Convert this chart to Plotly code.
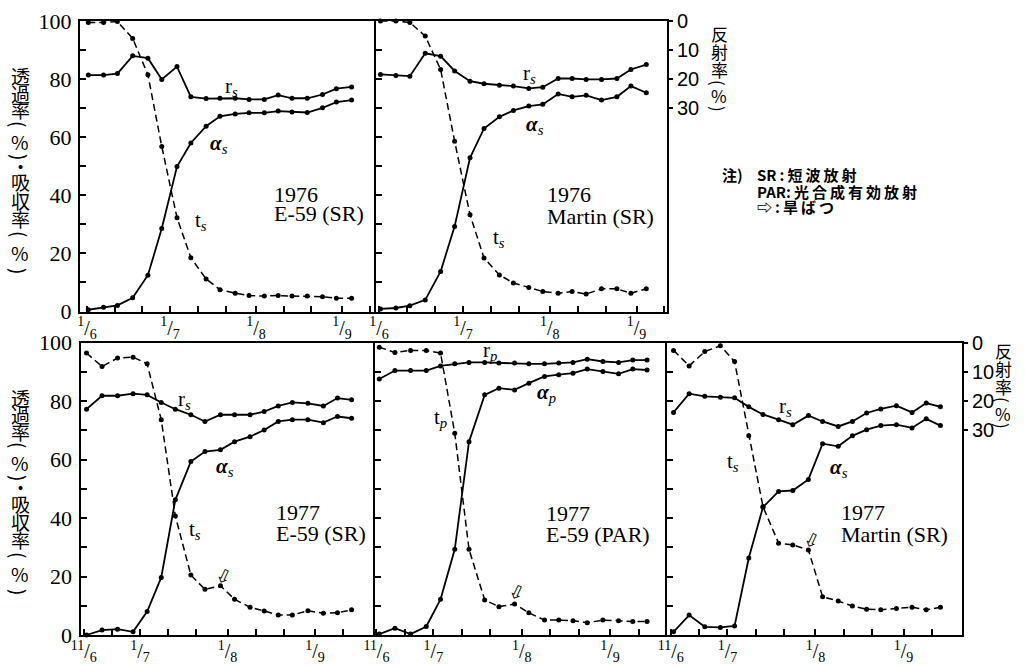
import plotly.graph_objects as go

# ---------------- data ----------------
# x = days after 1 June
days_1976 = [0.5, 6, 11, 16.5, 22, 27, 32.5, 37.5, 43, 48, 53.5, 58.5, 64, 69, 74, 79.5, 85, 90, 95.5]
days_1977 = [11, 16.5, 22, 27.5, 32.5, 37.5, 42.5, 48, 53, 58.5, 63.5, 69, 74, 79, 84, 89.5, 95, 100, 105]

# 1976 E-59 (SR)
t_e59_1976 = [99.5, 99.5, 99.8, 94, 81.5, 56.8, 32.3, 18.5, 11.2, 7.5, 6.3, 5.5, 5.3, 5.5, 5.3, 5.3, 5.1, 4.6, 4.6]
a_e59_1976 = [0.6, 1.5, 2.1, 4.7, 12.5, 28.6, 49.9, 58, 63.8, 67.2, 68, 68.4, 68.4, 69, 68.7, 68.5, 70.1, 72.1, 72.8]
r_e59_1976 = [18.6, 18.6, 18.1, 12, 12.8, 20.1, 15.7, 26.1, 26.7, 26.6, 26.6, 27, 27, 25.5, 26.6, 26.6, 25.3, 23.3, 22.7]

# 1976 Martin (SR)
t_mar_1976 = [100, 100, 99.5, 94.8, 83.3, 58.6, 33.3, 18.4, 12.6, 9.8, 8.3, 6.9, 6.3, 6.9, 6, 7.8, 7.8, 6.3, 7.8]
a_mar_1976 = [0.9, 1.2, 2, 4, 13.8, 29.3, 52.9, 63, 67, 69.2, 70.7, 71.3, 74.9, 73.9, 74.4, 72.8, 73.9, 77.6, 75.3]
r_mar_1976 = [18.4, 18.8, 19, 11.1, 12.1, 17.2, 20.7, 21.6, 22.1, 22.4, 23.2, 22.8, 19.8, 19.8, 20.1, 20.1, 19.8, 16.7, 15]

# 1977 E-59 (SR)
t_e59_1977 = [96.4, 91.8, 94.7, 95, 92.7, 73.6, 40.7, 20.5, 15.6, 16.8, 12.2, 9.5, 8.2, 6.8, 6.8, 8.3, 7.4, 7.6, 8.6]
a_e59_1977 = [0, 1.7, 2, 1.1, 8, 19.7, 46.2, 59.3, 62.7, 63.3, 66.1, 67.8, 70.1, 73, 73.6, 73.6, 72.6, 74.7, 74.1]
r_e59_1977 = [22.8, 18.2, 18.2, 17.5, 17.9, 20.5, 22.8, 24.7, 27, 24.7, 24.7, 24.7, 23.6, 21.7, 20.5, 20.8, 21.7, 19, 19.6]

# 1977 E-59 (PAR)
t_par_1977 = [98.4, 96.6, 97.3, 97.3, 96.4, 69, 29.3, 12, 9.7, 10.6, 7.6, 5.1, 5.1, 4.9, 4.2, 5.1, 4.9, 4.6, 4.6]
a_par_1977 = [0.3, 2.3, 0.3, 2.9, 12.2, 29.3, 66.1, 82.1, 84.4, 83.8, 86.1, 88.4, 89, 89.5, 90.9, 90.1, 89.3, 90.9, 90.6]
r_par_1977 = [12.5, 9.6, 9.6, 9.6, 8, 7.3, 6.8, 6.8, 7, 7, 7.3, 7.3, 7, 6.8, 5.7, 6.5, 6.8, 6, 6]

# 1977 Martin (SR)
t_mar_1977 = [97.3, 92, 96.9, 98.9, 93.5, 68.1, 43.9, 31.4, 30.8, 29.1, 13.1, 11.6, 9.9, 8.8, 8.6, 9.1, 9.5, 8.6, 9.5]
a_mar_1977 = [1.1, 6.8, 2.8, 2.6, 3.1, 26.3, 43.7, 49.1, 49.4, 53.2, 65.4, 64.5, 68.1, 70.2, 71.6, 71.9, 70.8, 73.9, 71.6]
r_mar_1977 = [23.9, 17.5, 18.4, 18.7, 18.9, 22, 24.6, 26.4, 28.1, 25, 27, 28.7, 27, 24.1, 22.7, 21.6, 23.9, 20.7, 22]

# ticks
tick_days_1976 = [0, 10, 20, 30, 40, 50, 61, 71, 81, 92, 102]
tick_text_1976 = ["1/6", "", "", "1/7", "", "", "1/8", "", "", "1/9", ""]
tick_days_1977 = [10, 20, 30, 40, 50, 61, 71, 81, 92, 102]
tick_text_1977 = ["11/6", "", "1/7", "", "", "1/8", "", "", "1/9", ""]
left_ticks = [0, 10, 20, 30, 40, 50, 60, 70, 80, 90, 100]
left_text = ["0", "", "20", "", "40", "", "60", "", "80", "", "100"]
refl_ticks = [0, 10, 20, 30]
refl_text = ["0", "10", "20", "30"]

# ---------------- layout geometry (pixels) ----------------
W, H = 1025, 666
def fx(px):
    return px / W
def fy(py):
    return 1 - py / H

def frac(s):
    if not s:
        return ""
    a, b = s.split("/")
    return "<sup>%s</sup>/<sub>%s</sub>" % (a, b)

panels = [
    dict(px=(80, 376), py=(21, 311.5), xr=[-2.5, 104.3], days=days_1976,
         t=t_e59_1976, a=a_e59_1976, r=r_e59_1976, tv=tick_days_1976, tt=tick_text_1976,
         first=True, last=False, sub="s",
         year="1976", name="E-59 (SR)", tpos=(272, 194, 214),
         lab_r=(231, 87), lab_a=(219, 144), lab_t=(201, 221), arrow=None),
    dict(px=(376, 667), py=(21, 311.5), xr=[-1.1, 102.9], days=days_1976,
         t=t_mar_1976, a=a_mar_1976, r=r_mar_1976, tv=tick_days_1976, tt=tick_text_1976,
         first=False, last=True, sub="s",
         year="1976", name="Martin (SR)", tpos=(545, 194, 216),
         lab_r=(529, 74), lab_a=(535, 125), lab_t=(499, 238), arrow=None),
    dict(px=(80.5, 375), py=(342.5, 635), xr=[8.87, 113.3], days=days_1977,
         t=t_e59_1977, a=a_e59_1977, r=r_e59_1977, tv=tick_days_1977, tt=tick_text_1977,
         first=True, last=False, sub="s",
         year="1977", name="E-59 (SR)", tpos=(274, 512, 533),
         lab_r=(184, 400), lab_a=(225, 467), lab_t=(195, 530), arrow=(224, 576)),
    dict(px=(375, 667), py=(342.5, 635), xr=[9.5, 112.0], days=days_1977,
         t=t_par_1977, a=a_par_1977, r=r_par_1977, tv=tick_days_1977, tt=tick_text_1977,
         first=False, last=False, sub="p",
         year="1977", name="E-59 (PAR)", tpos=(544, 513, 534),
         lab_r=(490, 351), lab_a=(546, 393), lab_t=(440, 418), arrow=(517, 592)),
    dict(px=(667, 962), py=(342.5, 635), xr=[8.7, 112.6], days=days_1977,
         t=t_mar_1977, a=a_mar_1977, r=r_mar_1977, tv=tick_days_1977, tt=tick_text_1977,
         first=False, last=True, sub="s",
         year="1977", name="Martin (SR)", tpos=(839, 512, 534),
         lab_r=(785, 407), lab_a=(839, 468), lab_t=(733, 462), arrow=(812, 540)),
]

def ref(letter, n):
    return letter if n == 1 else "%s%d" % (letter, n)
def key(letter, n):
    return "%saxis" % letter if n == 1 else "%saxis%d" % (letter, n)

fig = go.Figure()
layout = {}
annotations = []
SERIF = "Liberation Serif"
CJK = "Noto Sans CJK JP"

for i, p in enumerate(panels, start=1):
    j = i + 5
    xr_, yr_, y2r = ref("x", i), ref("y", i), ref("y", j)
    fig.add_trace(go.Scatter(x=p["days"], y=p["t"], mode="lines+markers",
                             line=dict(color="black", width=1.5, dash="7px,4px"),
                             marker=dict(size=5, color="black"),
                             xaxis=xr_, yaxis=yr_, cliponaxis=False, hoverinfo="skip"))
    fig.add_trace(go.Scatter(x=p["days"], y=p["a"], mode="lines+markers",
                             line=dict(color="black", width=1.8),
                             marker=dict(size=5, color="black"),
                             xaxis=xr_, yaxis=yr_, cliponaxis=False, hoverinfo="skip"))
    fig.add_trace(go.Scatter(x=p["days"], y=p["r"], mode="lines+markers",
                             line=dict(color="black", width=1.8),
                             marker=dict(size=5, color="black"),
                             xaxis=xr_, yaxis=y2r, cliponaxis=False, hoverinfo="skip"))

    layout[key("x", i)] = dict(
        domain=[fx(p["px"][0]), fx(p["px"][1])], range=p["xr"], anchor=yr_,
        showline=True, linewidth=2, linecolor="black", mirror=True,
        ticks="inside", ticklen=6, tickwidth=1.5, tickcolor="black",
        tickmode="array", tickvals=p["tv"], ticktext=[frac(s) for s in p["tt"]],
        ticklabelstandoff=-3,
        tickfont=dict(family=SERIF, size=20, color="black"), automargin=False,
        showgrid=False, zeroline=False, fixedrange=True)
    layout[key("y", i)] = dict(
        domain=[fy(p["py"][1]), fy(p["py"][0])], range=[0, 100], anchor=xr_,
        showline=True, linewidth=2, linecolor="black", mirror=p["last"],
        ticks="inside", ticklen=6, tickwidth=1.5, tickcolor="black",
        tickmode="array", tickvals=left_ticks, ticktext=left_text,
        showticklabels=p["first"], ticklabelstandoff=2, automargin=False,
        tickfont=dict(family=SERIF, size=22, color="black"),
        showgrid=False, zeroline=False, fixedrange=True)
    sec = dict(overlaying=yr_, anchor=xr_, side="right", range=[100, 0], automargin=False,
               showline=False, showgrid=False, zeroline=False, fixedrange=True)
    if p["last"]:
        sec.update(ticks="outside", ticklen=5, tickwidth=1.5, tickcolor="black",
                   tickmode="array", tickvals=refl_ticks, ticktext=refl_text,
                   ticklabelstandoff=0,
                   tickfont=dict(family="Liberation Sans", size=20, color="black"))
    else:
        sec.update(showticklabels=False, ticks="")
    layout[key("y", j)] = sec

    # panel titles
    x0, y1, y2 = p["tpos"]
    for txt, yy in ((p["year"], y1), (p["name"], y2)):
        annotations.append(dict(text=txt, x=fx(x0), y=fy(yy), xref="paper", yref="paper",
                                xanchor="left", yanchor="middle", showarrow=False,
                                font=dict(family=SERIF, size=22, color="black")))
    # series labels
    sb = p["sub"]
    for txt, (lx, ly) in (("r<sub><i>%s</i></sub>" % sb, p["lab_r"]),
                          ("<b><i>α</i></b><sub><i>%s</i></sub>" % sb, p["lab_a"]),
                          ("t<sub><i>%s</i></sub>" % sb, p["lab_t"])):
        annotations.append(dict(text=txt, x=fx(lx), y=fy(ly), xref="paper", yref="paper",
                                xanchor="center", yanchor="middle", showarrow=False,
                                font=dict(family=SERIF, size=21, color="black")))
    if p["arrow"]:
        ax_, ay_ = p["arrow"]
        annotations.append(dict(text="⇩", x=fx(ax_), y=fy(ay_), xref="paper", yref="paper",
                                xanchor="center", yanchor="middle", showarrow=False,
                                textangle=25,
                                font=dict(family="DejaVu Sans", size=19, color="black")))

# vertical axis titles  透過率(%)・吸収率(%)
left_title = [("透", 76), ("過", 93), ("率", 110), ("(", 124), ("%", 141), (")", 157),
              ("・", 166), ("吸", 182), ("収", 200), ("率", 218), ("(", 234), ("%", 252), (")", 271)]
for off in (0, 321):
    for ch, yy in left_title:
        rot = 90 if ch in "()" else 0
        annotations.append(dict(text=ch, x=fx(20), y=fy(yy + off), xref="paper", yref="paper",
                                xanchor="center", yanchor="middle", showarrow=False,
                                textangle=rot,
                                font=dict(family=CJK, size=19, color="black")))

# 反射率(%)
right_title = [("反", 0), ("射", 18), ("率", 36), ("(", 50), ("%", 63), (")", 76)]
for (cx, cy) in ((719, 33), (1003, 350)):
    for ch, dy in right_title:
        rot = 90 if ch in "()" else 0
        annotations.append(dict(text=ch, x=fx(cx), y=fy(cy + dy), xref="paper", yref="paper",
                                xanchor="center", yanchor="middle", showarrow=False,
                                textangle=rot,
                                font=dict(family=CJK, size=17, color="black")))

# note
def spaced(s):
    return "\u2009".join(s)
note_lines = [("注)", 720, 174), ("SR\u2009:\u2009" + spaced("短波放射"), 755, 174),
              ("PAR:\u2009" + spaced("光合成有効放射"), 755, 191),
              ("⇨\u2009:\u2009" + spaced("旱ばつ"), 755, 206)]
for txt, lx, ly in note_lines:
    annotations.append(dict(text="<b>%s</b>" % txt, x=fx(lx), y=fy(ly), xref="paper", yref="paper",
                            xanchor="left", yanchor="middle", showarrow=False,
                            font=dict(family=CJK, size=15, color="black")))

layout.update(width=W, height=H, margin=dict(l=0, r=0, t=0, b=0, pad=0, autoexpand=False),
              paper_bgcolor="white", plot_bgcolor="rgba(0,0,0,0)",
              showlegend=False, annotations=annotations)
fig.update_layout(**layout)
fig.write_html("out.html")
